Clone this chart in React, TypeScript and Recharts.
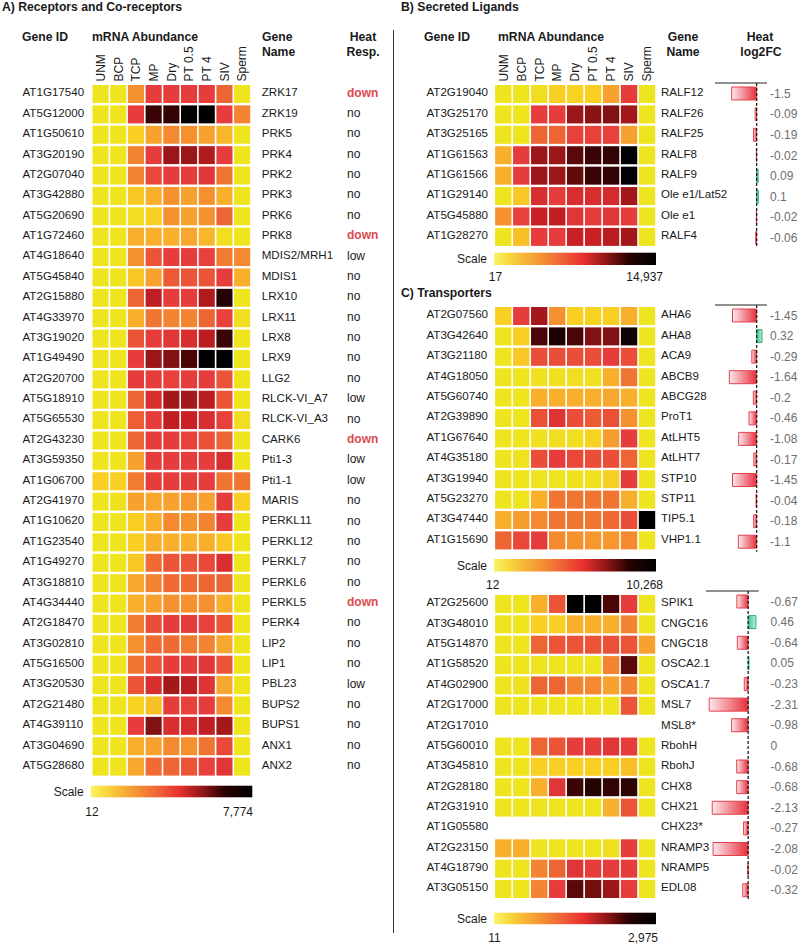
import React from 'react';
import { ScatterChart, Scatter, XAxis, YAxis, BarChart, Bar, Cell, ReferenceLine } from 'recharts';

const tissues = ['UNM', 'BCP', 'TCP', 'MP', 'Dry', 'PT 0.5', 'PT 4', 'SIV', 'Sperm'];

// A) receptors and co-receptors
const receptorIds = ['AT1G17540', 'AT5G12000', 'AT1G50610', 'AT3G20190', 'AT2G07040', 'AT3G42880', 'AT5G20690', 'AT1G72460', 'AT4G18640', 'AT5G45840', 'AT2G15880', 'AT4G33970', 'AT3G19020', 'AT1G49490', 'AT2G20700', 'AT5G18910', 'AT5G65530', 'AT2G43230', 'AT3G59350', 'AT1G06700', 'AT2G41970', 'AT1G10620', 'AT1G23540', 'AT1G49270', 'AT3G18810', 'AT4G34440', 'AT2G18470', 'AT3G02810', 'AT5G16500', 'AT3G20530', 'AT2G21480', 'AT4G39110', 'AT3G04690', 'AT5G28680'];
const receptorNames = ['ZRK17', 'ZRK19', 'PRK5', 'PRK4', 'PRK2', 'PRK3', 'PRK6', 'PRK8', 'MDIS2/MRH1', 'MDIS1', 'LRX10', 'LRX11', 'LRX8', 'LRX9', 'LLG2', 'RLCK-VI_A7', 'RLCK-VI_A3', 'CARK6', 'Pti1-3', 'Pti1-1', 'MARIS', 'PERKL11', 'PERKL12', 'PERKL7', 'PERKL6', 'PERKL5', 'PERK4', 'LIP2', 'LIP1', 'PBL23', 'BUPS2', 'BUPS1', 'ANX1', 'ANX2'];
const receptorHeat = ['down', 'no', 'no', 'no', 'no', 'no', 'no', 'down', 'low', 'no', 'no', 'no', 'no', 'no', 'no', 'low', 'no', 'down', 'low', 'low', 'no', 'no', 'no', 'no', 'no', 'down', 'no', 'no', 'no', 'low', 'no', 'no', 'no', 'no'];
// colour level 0 (yellow) .. 10 (black)
const receptorLevels = [
  [0, 0, 3, 6, 6, 6, 6, 4.5, 0],
  [0, 0, 6, 9.2, 9.3, 10, 10, 6, 3.5],
  [0, 0, 1, 2.5, 3.3, 3, 2.5, 1.8, 0],
  [0, 0, 3.5, 6, 8, 8, 7.5, 6, 0],
  [0, 0, 3.5, 5.5, 6, 6, 6.2, 4, 0],
  [0, 0, 1.2, 2, 3, 2.5, 3, 2, 0],
  [0, 0, 0.3, 1, 3, 2.5, 3, 4.5, 0],
  [0, 0, 2, 2, 2, 2.3, 1.8, 0.3, 0],
  [0, 0, 3, 5, 6, 6, 5.8, 3.8, 3.3],
  [0, 0, 1.3, 2.5, 4.8, 5, 5, 6, 2],
  [0, 0, 4.5, 7.2, 6, 6, 7.5, 9.5, 0],
  [0, 0, 2, 4, 3.5, 3.5, 4.5, 5.8, 0.3],
  [0, 0, 5, 6, 6.2, 6.5, 7.3, 9.2, 0],
  [0, 0, 6, 8, 8.3, 9, 10, 10, 0],
  [0, 0, 6, 6, 5.8, 6, 6, 5, 0],
  [0, 0, 4.5, 6.5, 7.8, 7.8, 7.3, 5, 0],
  [0, 0, 4.7, 6, 7.2, 7, 6.5, 5.8, 0.3],
  [0, 0, 4.5, 6, 6, 5.8, 5.2, 4.5, 0],
  [0, 0, 2.5, 6, 6, 6, 6, 6.5, 0],
  [1, 1, 3.8, 6, 6, 6, 6, 4, 4],
  [0, 0.2, 2.5, 2.3, 2.5, 2.8, 2.5, 6, 1],
  [0, 0, 1, 2, 3.3, 3, 3.5, 6, 0],
  [0, 0, 1, 2, 2, 2, 2, 1.3, 0],
  [0, 0, 1.2, 4.3, 5, 5, 5.5, 6.5, 0],
  [0, 0, 2.3, 3.5, 4.3, 4.3, 4.5, 4.5, 0],
  [0, 0, 2, 2.5, 3, 3, 3, 2, 0],
  [0, 0, 3.8, 5.3, 6, 6, 5.8, 5, 0],
  [0, 0, 3, 4.3, 4.3, 3.8, 3.5, 2.3, 0],
  [0, 0, 4, 5, 6, 6, 6.2, 5, 0],
  [0, 0, 5, 6.5, 7.8, 7.2, 6.3, 2.3, 0],
  [0, 0, 0.8, 1.5, 6, 5.8, 6, 3.3, 0],
  [0, 0, 6, 8.3, 6.5, 6.5, 7.2, 7.8, 0],
  [0, 0, 2, 2.5, 3.3, 3, 4, 5.5, 0],
  [0, 0, 2.3, 4.3, 4.5, 5, 5.8, 6.2, 0],
];

// B) secreted ligands
const ligandIds = ['AT2G19040', 'AT3G25170', 'AT3G25165', 'AT1G61563', 'AT1G61566', 'AT1G29140', 'AT5G45880', 'AT1G28270'];
const ligandNames = ['RALF12', 'RALF26', 'RALF25', 'RALF8', 'RALF9', 'Ole e1/Lat52', 'Ole e1', 'RALF4'];
const ligandFC = [-1.5, -0.09, -0.19, -0.02, 0.09, 0.1, -0.02, -0.06];
const ligandLevels = [
  [0, 0, 0.3, 1, 0.8, 1, 2.5, 6, 0],
  [0, 0, 6, 6, 8, 8.2, 8.3, 7.8, 0],
  [0, 0, 4.5, 4.5, 5.8, 5.8, 5.8, 2.5, 0],
  [2, 6, 8, 8, 8.8, 9.2, 9.3, 10, 0],
  [2, 6, 8, 8, 8.7, 9.2, 9.3, 10, 0],
  [0, 1.2, 6.5, 6, 6.5, 6.5, 6.6, 7.8, 0],
  [3, 5.8, 7, 7.2, 6.2, 6, 6.2, 6, 0],
  [0, 1.5, 6, 6, 7, 7, 7.3, 7.8, 0],
];

// C) transporters, first block
const pumpIds = ['AT2G07560', 'AT3G42640', 'AT3G21180', 'AT4G18050', 'AT5G60740', 'AT2G39890', 'AT1G67640', 'AT4G35180', 'AT3G19940', 'AT5G23270', 'AT3G47440', 'AT1G15690'];
const pumpNames = ['AHA6', 'AHA8', 'ACA9', 'ABCB9', 'ABCG28', 'ProT1', 'AtLHT5', 'AtLHT7', 'STP10', 'STP11', 'TIP5.1', 'VHP1.1'];
const pumpFC = [-1.45, 0.32, -0.29, -1.64, -0.2, -0.46, -1.08, -0.17, -1.45, -0.04, -0.18, -1.1];
const pumpLevels = [
  [1, 6, 7.8, 3, 1, 0.8, 1, 2, 0],
  [0, 1, 9, 9.6, 9, 8.3, 8.3, 9.8, 0],
  [0, 1.2, 5.3, 5.3, 5.3, 5.3, 6, 5.3, 0],
  [0, 0, 0.2, 0.2, 0.3, 0.2, 2, 4, 0],
  [0, 0, 2, 2, 2, 2, 2.3, 2, 0],
  [0, 0, 5.2, 6.3, 5.3, 4.8, 5.2, 3, 0],
  [0, 0, 0.2, 0.3, 0.3, 0.8, 2.7, 6, 0],
  [0, 0.1, 5.3, 6, 5.5, 5.3, 5.3, 4.5, 0],
  [0, 0, 0, 0, 0.2, 0.2, 1, 6, 0],
  [0, 0, 2, 4, 4, 4, 4, 2, 0],
  [2, 2.7, 3.3, 4, 4, 4, 4.3, 5.3, 10],
  [4.5, 5.5, 6, 3.3, 3, 2.8, 2.8, 3.3, 0],
];

// C) transporters, second block (null = no expression data)
const channelIds = ['AT2G25600', 'AT3G48010', 'AT5G14870', 'AT1G58520', 'AT4G02900', 'AT2G17000', 'AT2G17010', 'AT5G60010', 'AT3G45810', 'AT2G28180', 'AT2G31910', 'AT1G05580', 'AT2G23150', 'AT4G18790', 'AT3G05150'];
const channelNames = ['SPIK1', 'CNGC16', 'CNGC18', 'OSCA2.1', 'OSCA1.7', 'MSL7', 'MSL8*', 'RbohH', 'RbohJ', 'CHX8', 'CHX21', 'CHX23*', 'NRAMP3', 'NRAMP5', 'EDL08'];
const channelFC = [-0.67, 0.46, -0.64, 0.05, -0.23, -2.31, -0.98, 0, -0.68, -0.68, -2.13, -0.27, -2.08, -0.02, -0.32];
const channelLevels = [
  [0, 0, 2, 5, 10, 10, 9, 6, 0],
  [0, 0, 1, 1, 2, 2, 2, 3.5, 0],
  [0, 0, 4.5, 5, 5, 5, 5.2, 5, 2.5],
  [0, 0, 0, 0, 0, 0, 3.5, 8.8, 0],
  [0, 0.2, 4.5, 4.5, 3.5, 3.3, 2.5, 3.5, 0],
  [0, 0, 0, 0, 0, 0, 0, 5, 0],
  null,
  [0, 0, 4.5, 5, 6, 6, 6.2, 6, 0],
  [0, 0, 1, 1, 1, 1, 1, 1.5, 0],
  [0, 0, 2, 6.2, 9.2, 9.5, 9.3, 9.4, 0],
  [0, 0, 0, 0, 0, 0, 2, 5, 0],
  null,
  [2, 2, 0, 0, 0, 0, 0.3, 6, 0],
  [0, 0, 3.5, 4.5, 6.2, 6, 6, 6, 0],
  [0, 0, 3.5, 6, 8.8, 8.5, 8, 6, 0],
];

const levelStops = ['#eee51f', '#f8cf22', '#f8b02c', '#f5922f', '#f07532', '#eb5436', '#e73c3c', '#c82024', '#9a1618', '#4a0606', '#000000'];

function hex(c: string) {
  return [1, 3, 5].map((i) => parseInt(c.slice(i, i + 2), 16));
}

function levelColor(v: number) {
  const i = Math.min(9, Math.floor(v));
  const t = v - i;
  const a = hex(levelStops[i]);
  const b = hex(levelStops[i + 1]);
  return `rgb(${a.map((x, k) => Math.round(x + (b[k] - x) * t)).join(',')})`;
}

const FONT = '"Liberation Sans", Arial, sans-serif';
const TXT = '#1a1a1a';

interface HeatmapProps {
  ids: string[];
  names: string[];
  levels: (number[] | null)[];
  heat?: string[];
  left: number;
  top: number;
  width: number;
  height: number;
  header: number;
  plotLeft: number;
  plotRight: number;
  idX: number;
  nameX: number;
  heatX?: number;
}

function Heatmap({ ids, names, levels, heat, left, top, width, height, header, plotLeft, plotRight, idX, nameX, heatX }: HeatmapProps) {
  const data = ids.flatMap((id, g) =>
    tissues.map((t, j) => ({ gene: id, tissue: t, level: levels[g] ? (levels[g] as number[])[j] : null }))
  );
  const colW = (plotRight - plotLeft) / tissues.length;
  const rowH = (height - header) / ids.length;

  const rowTick = (p: any) => {
    const g = ids.indexOf(p.payload.value);
    const h = heat ? heat[g] : null;
    const y = p.y - 1;
    return (
      <g>
        <text x={idX} y={y} dy="0.36em" fontSize={11.6} fill={TXT}>{p.payload.value}</text>
        <text x={nameX} y={y} dy="0.36em" fontSize={11.6} fill={TXT}>{names[g]}</text>
        {h && (
          <text x={heatX} y={y} dy="0.36em" fontSize={12} fill={h === 'down' ? '#db4a50' : TXT} fontWeight={h === 'down' ? 'bold' : 'normal'}>{h}</text>
        )}
      </g>
    );
  };

  const colTick = (p: any) => (
    <text x={p.x} y={header - 1.5} dy="0.36em" transform={`rotate(-90 ${p.x} ${header - 1.5})`} fontSize={12} fill={TXT} textAnchor="start">
      {p.payload.value}
    </text>
  );

  return (
    <div style={{ position: 'absolute', left, top }}>
      <ScatterChart width={width} height={height + 2} margin={{ top: 0, right: width - plotRight, bottom: 2, left: 0 }}>
        <XAxis
          type="category"
          dataKey="tissue"
          orientation="top"
          allowDuplicatedCategory={false}
          interval={0}
          height={header}
          hide={header === 0}
          tickLine={false}
          axisLine={false}
          tick={colTick}
        />
        <YAxis
          type="category"
          dataKey="gene"
          allowDuplicatedCategory={false}
          reversed
          interval={0}
          width={plotLeft}
          tickLine={false}
          axisLine={false}
          tick={rowTick}
        />
        <Scatter
          data={data}
          isAnimationActive={false}
          shape={(p: any) =>
            p.payload.level == null ? (
              <g />
            ) : (
              <rect
                x={p.cx - colW / 2 + 0.8}
                y={p.cy - rowH / 2 + 2}
                width={colW - 1.6}
                height={rowH - 2.4}
                fill={levelColor(p.payload.level)}
              />
            )
          }
        />
      </ScatterChart>
    </div>
  );
}

interface FoldProps {
  ids: string[];
  fc: number[];
  left: number;
  top: number;
  height: number;
  plotW: number;
  gap: number;
  tag: string;
}

function FoldBars({ ids, fc, left, top, height, plotW, gap, tag }: FoldProps) {
  const data = ids.map((id, i) => ({ gene: id, fc: fc[i] }));
  const labelW = 40;
  return (
    <div style={{ position: 'absolute', left, top }}>
      <BarChart
        layout="vertical"
        width={2 + plotW + labelW}
        height={height + 4}
        data={data}
        margin={{ top: 2, right: 0, bottom: 0, left: 2 }}
        barSize={13}
      >
        <defs>
          <linearGradient id={`neg-${tag}`} x1="0" y1="0" x2="1" y2="0">
            <stop offset="0%" stopColor="#fde8ec" />
            <stop offset="100%" stopColor="#e62f3c" />
          </linearGradient>
          <linearGradient id={`pos-${tag}`} x1="0" y1="0" x2="1" y2="0">
            <stop offset="0%" stopColor="#3fc48e" />
            <stop offset="100%" stopColor="#b8f0d8" />
          </linearGradient>
        </defs>
        <XAxis
          type="number"
          orientation="top"
          domain={[-2.5, 0.62]}
          allowDataOverflow
          height={2}
          tick={false}
          tickLine={false}
          axisLine={{ stroke: '#222', strokeWidth: 1.2 }}
        />
        <YAxis
          type="category"
          dataKey="gene"
          orientation="right"
          width={labelW}
          interval={0}
          tickLine={false}
          axisLine={false}
          tickSize={0}
          tickMargin={gap}
          tick={{ fill: '#6e6e6e', fontSize: 12, textAnchor: 'start' }}
          tickFormatter={(id: string) => String(fc[ids.indexOf(id)])}
        />
        <Bar dataKey="fc" isAnimationActive={false} strokeWidth={1}>
          {data.map((d) => (
            <Cell
              key={d.gene}
              fill={d.fc < 0 ? `url(#neg-${tag})` : `url(#pos-${tag})`}
              stroke={d.fc < 0 ? '#e2404b' : '#2fae78'}
            />
          ))}
        </Bar>
        <ReferenceLine x={0} stroke="#111" strokeDasharray="3 2" strokeWidth={1.2} />
      </BarChart>
    </div>
  );
}

const scaleStops = [
  ['0%', '#fbf26c'],
  ['8%', '#f8dc3e'],
  ['25%', '#f5a033'],
  ['42%', '#ef6236'],
  ['55%', '#e8302e'],
  ['70%', '#8c1414'],
  ['83%', '#2a0202'],
  ['100%', '#000000'],
];

function ScaleBar({ x, y, w, h, lo, hi, loX, hiX, labelY }: { x: number; y: number; w: number; h: number; lo: string; hi: string; loX: number; hiX: number; labelY: number }) {
  return (
    <g>
      <text x={x - 7} y={y + h / 2} dy="0.36em" textAnchor="end" fontSize={12} fill={TXT}>Scale</text>
      <rect x={x} y={y} width={w} height={h} fill="url(#scaleGrad)" />
      <text x={loX} y={labelY} dy="0.36em" textAnchor="middle" fontSize={12} fill={TXT}>{lo}</text>
      <text x={hiX} y={labelY} dy="0.36em" textAnchor="end" fontSize={12} fill={TXT}>{hi}</text>
    </g>
  );
}

export default function App() {
  const bold = { fontWeight: 'bold' as const, fontSize: 12.2, fill: TXT };
  return (
    <div style={{ position: 'absolute', left: 0, top: 0, width: 799, height: 944, background: '#fff', fontFamily: FONT, overflow: 'hidden' }}>
      <Heatmap
        ids={receptorIds} names={receptorNames} levels={receptorLevels} heat={receptorHeat}
        left={0} top={0} width={400} height={776} header={83}
        plotLeft={91.7} plotRight={251} idX={22.5} nameX={261.7} heatX={347}
      />
      <Heatmap
        ids={ligandIds} names={ligandNames} levels={ligandLevels}
        left={400} top={0} width={399} height={246.3} header={83}
        plotLeft={94.3} plotRight={256} idX={26.5} nameX={261}
      />
      <Heatmap
        ids={pumpIds} names={pumpNames} levels={pumpLevels}
        left={400} top={304.8} width={399} height={244.8} header={0}
        plotLeft={94.3} plotRight={256} idX={26.5} nameX={261}
      />
      <Heatmap
        ids={channelIds} names={channelNames} levels={channelLevels}
        left={400} top={593.1} width={399} height={305.4} header={0}
        plotLeft={94.3} plotRight={256} idX={26.5} nameX={261}
      />
      <FoldBars ids={ligandIds} fc={ligandFC} tag="b" left={713} top={79.3} height={165.2} plotW={52} gap={3} />
      <FoldBars ids={pumpIds} fc={pumpFC} tag="c1" left={713} top={300.8} height={246.8} plotW={52} gap={3} />
      <FoldBars ids={channelIds} fc={channelFC} tag="c2" left={703.7} top={587.1} height={309.4} plotW={52.6} gap={12} />

      <svg width={799} height={944} style={{ position: 'absolute', left: 0, top: 0, pointerEvents: 'none' }}>
        <defs>
          <linearGradient id="scaleGrad" x1="0" y1="0" x2="1" y2="0">
            {scaleStops.map(([o, c]) => <stop key={o} offset={o} stopColor={c} />)}
          </linearGradient>
        </defs>
        <text x={2} y={6.5} dy="0.36em" {...bold}>A) Receptors and Co-receptors</text>
        <text x={401} y={6.5} dy="0.36em" {...bold}>B) Secreted Ligands</text>
        <text x={401} y={293} dy="0.36em" {...bold}>C) Transporters</text>

        <text x={22} y={37} dy="0.36em" {...bold}>Gene ID</text>
        <text x={92} y={37} dy="0.36em" {...bold}>mRNA Abundance</text>
        <text x={262} y={37} dy="0.36em" {...bold}>Gene</text>
        <text x={262} y={52} dy="0.36em" {...bold}>Name</text>
        <text x={363} y={37} dy="0.36em" textAnchor="middle" {...bold}>Heat</text>
        <text x={363} y={52} dy="0.36em" textAnchor="middle" {...bold}>Resp.</text>

        <text x={424} y={37} dy="0.36em" {...bold}>Gene ID</text>
        <text x={498} y={37} dy="0.36em" {...bold}>mRNA Abundance</text>
        <text x={683} y={37} dy="0.36em" textAnchor="middle" {...bold}>Gene</text>
        <text x={683} y={52} dy="0.36em" textAnchor="middle" {...bold}>Name</text>
        <text x={760} y={37} dy="0.36em" textAnchor="middle" {...bold}>Heat</text>
        <text x={761} y={52} dy="0.36em" textAnchor="middle" {...bold}>log2FC</text>

        <line x1={393.5} y1={30} x2={393.5} y2={933} stroke="#333" strokeWidth={1} />

        <ScaleBar x={90.7} y={785.7} w={161.6} h={11.6} lo="12" hi="7,774" loX={92} hiX={253} labelY={812} />
        <ScaleBar x={494} y={252.7} w={162} h={12.3} lo="17" hi="14,937" loX={495.5} hiX={663} labelY={277} />
        <ScaleBar x={494} y={559} w={162} h={12.5} lo="12" hi="10,268" loX={492.7} hiX={663} labelY={585} />
        <ScaleBar x={494} y={912.7} w={162} h={11.5} lo="11" hi="2,975" loX={494.5} hiX={658} labelY={938} />
      </svg>
    </div>
  );
}
